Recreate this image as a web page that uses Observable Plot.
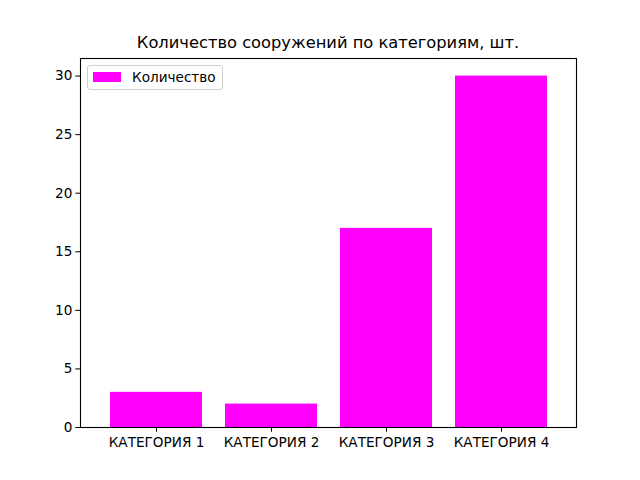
<!DOCTYPE html>
<html><head><meta charset="utf-8">
<script src="https://cdn.jsdelivr.net/npm/d3@7"></script>
<script src="https://cdn.jsdelivr.net/npm/@observablehq/plot@0.6"></script>
<style>
body{margin:0;background:#fff;}
#wrap{position:relative;width:640px;height:480px;font-family:"DejaVu Sans",sans-serif;}
#legend{position:absolute;left:87px;top:65px;width:136px;height:25px;border:1px solid #d0d0d0;border-radius:3px;background:rgba(255,255,255,0.8);box-sizing:border-box;}
#legend .sw{position:absolute;left:5px;top:6px;width:28px;height:10px;background:#ff00ff;}
#legend .lb{position:absolute;left:44px;top:3px;font-size:13.6px;color:#000;white-space:nowrap;}
#title{position:absolute;left:80px;width:496px;top:33px;text-align:center;font-size:16.3px;color:#000;}
</style></head>
<body><div id="wrap"><div id="title">Количество сооружений по категориям, шт.</div></div>
<script>
const categories = ["КАТЕГОРИЯ 1", "КАТЕГОРИЯ 2", "КАТЕГОРИЯ 3", "КАТЕГОРИЯ 4"];
const values = [3, 2, 17, 30];
const yTicks = [0, 5, 10, 15, 20, 25, 30];
const seriesLabel = "Количество";
const barColor = "#ff00ff";

const data = categories.map((c, i) => ({category: c, value: values[i]}));

const chart = Plot.plot({
  width: 640,
  height: 480,
  marginLeft: 80,
  marginRight: 64,
  marginTop: 58,
  marginBottom: 53,
  style: {fontFamily: "DejaVu Sans, sans-serif", fontSize: "13.6px", color: "#000", background: "#fff"},
  x: {domain: categories, paddingInner: 0.2, paddingOuter: 0.247, label: null},
  y: {domain: [0, 31.5], label: null},
  marks: [
    Plot.barY(data, {x: "category", y: "value", fill: barColor}),
    Plot.axisX({tickSize: 4.7, tickPadding: 5.5, fontSize: 13.6}),
    Plot.axisY({ticks: yTicks, tickSize: 4.7, tickPadding: 3.5, fontSize: 13.6, tickFormat: d => String(d)}),
    Plot.frame({stroke: "#000", strokeWidth: 1.1})
  ]
});
const wrap = document.getElementById("wrap");
wrap.insertBefore(chart, wrap.firstChild);
const lg = document.createElement("div");
lg.id = "legend";
lg.innerHTML = `<div class="sw"></div><div class="lb">${seriesLabel}</div>`;
wrap.appendChild(lg);
</script></body></html>
